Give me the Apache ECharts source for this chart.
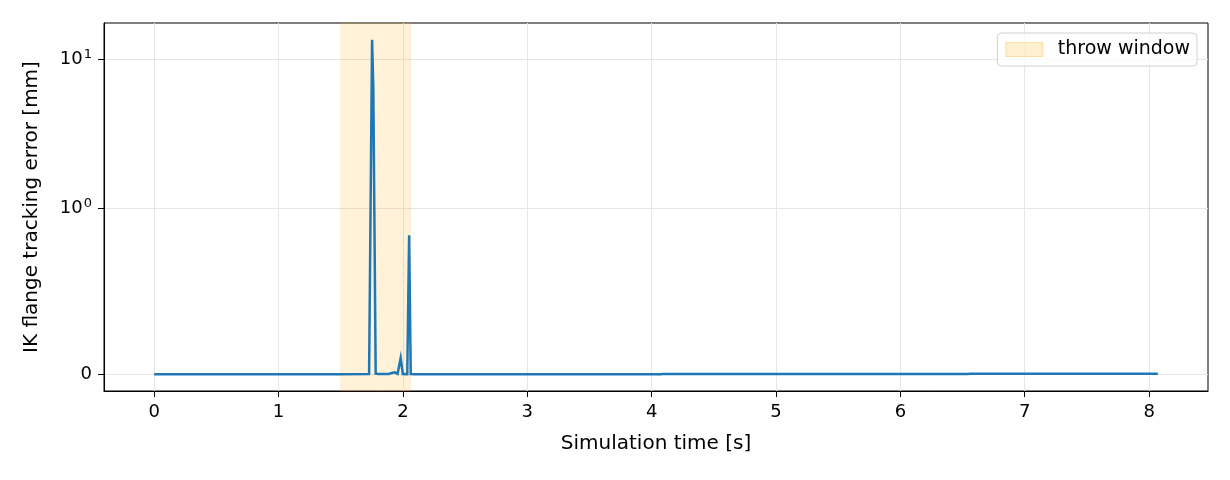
<!DOCTYPE html>
<html>
<head>
<meta charset="utf-8">
<script src="https://cdn.jsdelivr.net/npm/echarts@6/dist/echarts.min.js"></script>
<style>
  html, body { margin: 0; padding: 0; background: #fff; }
  #chart { width: 1230px; height: 480px; }
</style>
</head>
<body>
<div id="chart"></div>
<script>
// simulation time [s]
var simTime = [0, 1.0, 1.5, 1.728, 1.752, 1.762, 1.781, 1.80, 1.885, 1.91, 1.92, 1.935, 1.95,
  1.957, 1.982, 1.999, 2.035, 2.05, 2.063, 2.1, 3.0, 4.07, 4.08, 4.09, 5.19, 5.20, 5.21,
  6.01, 6.02, 6.03, 6.54, 6.55, 6.56, 7.5, 8.07];
// IK flange tracking error [mm]
var trackErr = [0.002, 0.002, 0.002, 0.003, 13.5, 6.5, 0.006, 0.004, 0.004, 0.010, 0.004, 0.014, 0.004,
  0.005, 0.10, 0.004, 0.003, 0.84, 0.003, 0.002, 0.002, 0.002, 0.008, 0.004, 0.004, 0.008, 0.003,
  0.003, 0.007, 0.004, 0.004, 0.008, 0.005, 0.005, 0.005];
var throwWindow = [1.5, 2.06];
var xTicks = [0, 1, 2, 3, 4, 5, 6, 7, 8];
var yTicks = [0, 1, 10];

// matplotlib style symlog, linthresh 1, linscale 1, base 10
var linAdj = 1 / (1 - 1 / 10);
function symlog(v) {
  var a = Math.abs(v), s = v < 0 ? -1 : 1;
  if (a <= 1) return v * linAdj;
  return s * (linAdj + Math.log10(a));
}

var lineData = simTime.map(function (t, i) { return [t, symlog(trackErr[i])]; });

var xPad = 0.05 * (simTime[simTime.length - 1] - simTime[0]);
var yVals = lineData.map(function (d) { return d[1]; });
var yMinT = Math.min.apply(null, yVals), yMaxT = Math.max.apply(null, yVals);
var yPad = 0.05 * (yMaxT - yMinT);

var yTickT = yTicks.map(symlog);
function yLabel(v) {
  for (var i = 0; i < yTicks.length; i++) {
    if (Math.abs(v - yTickT[i]) < 1e-6) {
      if (yTicks[i] === 0) return '{b|0}';
      return '{b|10}{s|' + Math.round(Math.log10(yTicks[i])) + '}';
    }
  }
  return '';
}

var FONT = 'DejaVu Sans';
var chart = echarts.init(document.getElementById('chart'));
chart.setOption({
  animation: false,
  textStyle: { fontFamily: FONT },
  grid: {
    left: 104, right: 22, top: 23, bottom: 89,
    show: true, borderColor: '#000', borderWidth: 1,
    containLabel: false, outerBoundsMode: 'none'
  },
  legend: {
    right: 33, top: 33,
    data: [{
      name: 'throw window', icon: 'rect',
      itemStyle: { color: 'rgba(255,165,0,0.18)', borderColor: 'rgba(255,165,0,0.3)', borderWidth: 1 }
    }],
    itemWidth: 37, itemHeight: 14,
    backgroundColor: 'rgba(255,255,255,0.8)',
    borderColor: '#d0d0d0', borderWidth: 1, borderRadius: 4,
    padding: [7, 7, 7, 8],
    selectedMode: false,
    textStyle: { fontFamily: FONT, fontSize: 19, color: '#000', padding: [0, 0, 0, 10] }
  },
  xAxis: {
    type: 'value',
    min: simTime[0] - xPad,
    max: simTime[simTime.length - 1] + xPad,
    name: 'Simulation time [s]',
    nameLocation: 'middle',
    nameGap: 43,
    nameTextStyle: { fontFamily: FONT, fontSize: 20, color: '#000' },
    axisLine: { show: true, onZero: false, lineStyle: { color: '#000', width: 1 } },
    axisTick: { show: true, customValues: xTicks, length: 6, lineStyle: { color: '#000' } },
    axisLabel: { customValues: xTicks, margin: 12, fontFamily: FONT, fontSize: 18, color: '#000' },
    splitLine: { show: true, lineStyle: { color: '#e6e6e6', width: 1 } }
  },
  yAxis: {
    type: 'value',
    min: yMinT - yPad,
    max: yMaxT + yPad,
    name: 'IK flange tracking error [mm]',
    nameLocation: 'middle',
    nameGap: 62,
    nameTextStyle: { fontFamily: FONT, fontSize: 20, color: '#000' },
    axisLine: { show: true, onZero: false, lineStyle: { color: '#000', width: 1 } },
    axisTick: { show: true, customValues: yTickT, length: 6, lineStyle: { color: '#000' } },
    axisLabel: {
      customValues: yTickT, margin: 12, formatter: yLabel, color: '#000',
      rich: {
        b: { fontFamily: FONT, fontSize: 18, color: '#000' },
        s: { fontFamily: FONT, fontSize: 13, color: '#000', padding: [0, 0, 9, 1] }
      }
    },
    splitLine: { show: true, lineStyle: { color: '#e6e6e6', width: 1 } }
  },
  series: [
    {
      name: 'throw window',
      type: 'line',
      data: [],
      itemStyle: { color: 'rgba(255,165,0,0.18)' },
      markArea: {
        silent: true,
        itemStyle: { color: 'rgba(255,165,0,0.15)', borderColor: 'rgba(255,165,0,0.12)', borderWidth: 1 },
        data: [[{ xAxis: throwWindow[0] }, { xAxis: throwWindow[1] }]]
      }
    },
    {
      name: 'error',
      type: 'line',
      data: lineData,
      showSymbol: false,
      symbol: 'none',
      lineStyle: { color: '#1f77b4', width: 2.5, join: 'miter' },
      z: 3
    }
  ]
});
</script>
</body>
</html>
